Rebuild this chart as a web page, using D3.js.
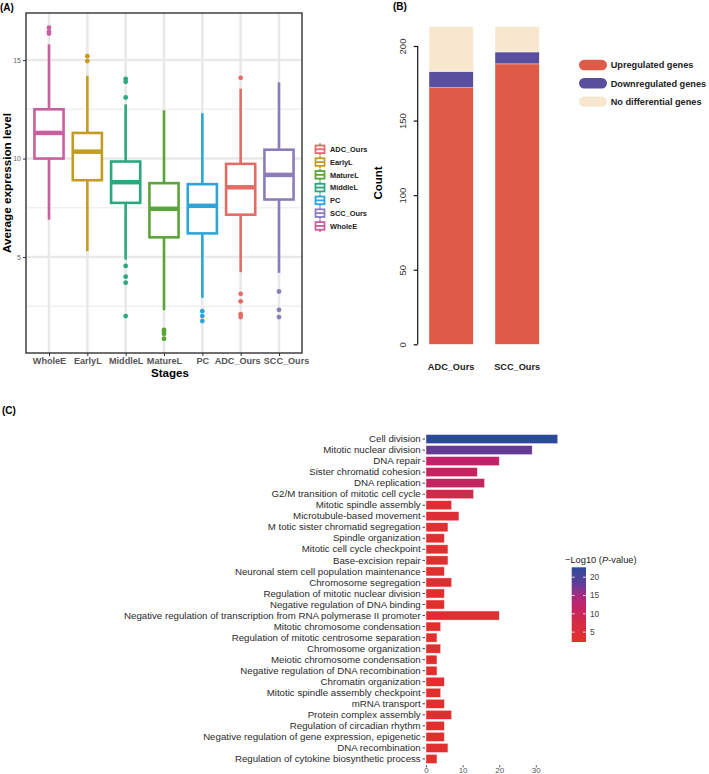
<!DOCTYPE html>
<html><head><meta charset="utf-8">
<script src="https://cdn.jsdelivr.net/npm/d3@7"></script>
<style>body{margin:0;background:#fff}svg{display:block;font-family:"Liberation Sans",Arial,sans-serif}</style>
</head><body>
<svg id="c" width="709" height="774"></svg>
<script>
// ---------- Panel A data ----------
const stages = ["WholeE","EarlyL","MiddleL","MatureL","PC","ADC_Ours","SCC_Ours"];
const q1 = [10.0, 8.9, 7.75, 6.0, 6.2, 7.15, 7.92];
const medians = [11.3, 10.35, 8.8, 7.45, 7.6, 8.54, 9.17];
const q3 = [12.5, 11.3, 9.85, 8.75, 8.7, 9.73, 10.45];
const whiskerLow = [6.9, 5.3, 4.87, 2.3, 2.93, 4.23, 4.2];
const whiskerHigh = [15.8, 14.2, 12.75, 12.45, 12.3, 13.55, 13.87];
const outliers = [[16.65,16.45,16.35],[15.2,14.95],[14.05,13.9,13.1,4.55,4.0,3.7,2.0],[1.3,1.2,1.1,0.85],[2.25,2.0,1.75],[14.1,3.13,2.75,2.1,1.95],[3.25,2.32,1.95]];
const legendOrderA = ["ADC_Ours","EarlyL","MatureL","MiddleL","PC","SCC_Ours","WholeE"];
const stageColors = ["#c8609f","#c39c22","#2aa97f","#5aa63a","#2ea4d8","#e26d66","#8b7cba"];
const yTicksA = [5,10,15];

// ---------- Panel B data ----------
const groupsB = ["ADC_Ours","SCC_Ours"];
const upregulated = [172, 188];
const downregulated = [11, 8];
const noDifferential = [30, 17];
const seriesB = ["Upregulated genes","Downregulated genes","No differential genes"];
const colorsB = ["#df5b47","#5a4f9f","#f8e7cf"];
const yTicksB = [0,50,100,150,200];

// ---------- Panel C data ----------
const terms = ["Cell division","Mitotic nuclear division","DNA repair","Sister chromatid cohesion","DNA replication","G2/M transition of mitotic cell cycle","Mitotic spindle assembly","Microtubule-based movement","M totic sister chromatid segregation","Spindle organization","Mitotic cell cycle checkpoint","Base-excision repair","Neuronal stem cell population maintenance","Chromosome segregation","Regulation of mitotic nuclear division","Negative regulation of DNA binding","Negative regulation of transcription from RNA polymerase II promoter","Mitotic chromosome condensation","Regulation of mitotic centrosome separation","Chromosome organization","Meiotic chromosome condensation","Negative regulation of DNA recombination","Chromatin organization","Mitotic spindle assembly checkpoint","mRNA transport","Protein complex assembly","Regulation of circadian rhythm","Negative regulation of gene expression, epigenetic","DNA recombination","Regulation of cytokine biosynthetic process"];
const termCounts = [36,29,20,14,16,13,7,9,6,5,6,6,5,7,5,5,20,4,3,4,3,3,5,4,5,7,5,5,6,3];
const negLogP = [22.7,17.8,12.0,11.2,11.4,8.6,4.0,4.5,3.6,3.4,3.6,3.5,3.2,3.8,3.2,3.1,4.2,3.0,2.8,3.0,2.8,2.8,3.1,2.9,3.1,3.6,3.0,3.0,3.2,2.7];
const xTicksC = [0,10,20,30];
const legendTicksC = [5,10,15,20];
const colorStopValues = [2.3, 8, 12, 15, 18, 22.7];
const colorStopColors = ["#e3302a","#d32a47","#c22368","#a8287f","#5d3c97","#2a4a9c"];

const svg = d3.select("#c");
const font = "Liberation Sans, Arial, sans-serif";

// ================= Panel A =================
const A = {l:26, r:302, t:13, b:353};
const xA = d3.scalePoint().domain(stages).range([A.l, A.r]).padding(0.6);
const yA = d3.scaleLinear().domain([0.127, 17.39]).range([A.b, A.t]);
const labelNudgeA = {"ADC_Ours":-3.5, "SCC_Ours":7};
const gA = svg.append("g");
[2.5,7.5,12.5].forEach(v=>gA.append("line").attr("x1",A.l).attr("x2",A.r).attr("y1",yA(v)).attr("y2",yA(v)).attr("stroke","#f0f0f0").attr("stroke-width",1.6));
yTicksA.forEach(v=>gA.append("line").attr("x1",A.l).attr("x2",A.r).attr("y1",yA(v)).attr("y2",yA(v)).attr("stroke","#e9e9e9").attr("stroke-width",2.6));
stages.forEach(s=>gA.append("line").attr("x1",xA(s)).attr("x2",xA(s)).attr("y1",A.t).attr("y2",A.b).attr("stroke","#e9e9e9").attr("stroke-width",2.6));
const bw = xA.step()*0.76;
stages.forEach((s,i)=>{
  const c = stageColors[i], x = xA(s);
  const g = gA.append("g");
  g.append("line").attr("x1",x).attr("x2",x).attr("y1",yA(whiskerHigh[i])).attr("y2",yA(q3[i])).attr("stroke",c).attr("stroke-width",2.6);
  g.append("line").attr("x1",x).attr("x2",x).attr("y1",yA(q1[i])).attr("y2",yA(whiskerLow[i])).attr("stroke",c).attr("stroke-width",2.6);
  g.append("rect").attr("x",x-bw/2).attr("width",bw).attr("y",yA(q3[i])).attr("height",yA(q1[i])-yA(q3[i])).attr("fill","#fff").attr("stroke",c).attr("stroke-width",2.6);
  g.append("line").attr("x1",x-bw/2).attr("x2",x+bw/2).attr("y1",yA(medians[i])).attr("y2",yA(medians[i])).attr("stroke",c).attr("stroke-width",4.5);
  outliers[i].forEach(o=>g.append("circle").attr("cx",x).attr("cy",yA(o)).attr("r",2.4).attr("fill",c));
});
gA.append("rect").attr("x",A.l).attr("y",A.t).attr("width",A.r-A.l).attr("height",A.b-A.t).attr("fill","none").attr("stroke","#333").attr("stroke-width",1.4);
const axYA = gA.append("g").attr("transform",`translate(${A.l},0)`).call(d3.axisLeft(yA).tickValues(yTicksA).tickSize(3).tickPadding(2));
axYA.select(".domain").remove();
axYA.selectAll("line").attr("stroke","#333");
axYA.selectAll("text").attr("font-size",7).attr("fill","#666").attr("font-family",font);
const axXA = gA.append("g").attr("transform",`translate(0,${A.b})`).call(d3.axisBottom(xA).tickSize(3).tickPadding(1.5));
axXA.select(".domain").remove();
axXA.selectAll("line").attr("stroke","#333");
axXA.selectAll("text").attr("font-size",9.1).attr("font-weight","bold").attr("fill","#555").attr("font-family",font)
  .attr("dx",d=>labelNudgeA[d]||0);
gA.append("text").attr("x",170).attr("y",377).attr("text-anchor","middle").attr("font-size",11.6).attr("font-weight","bold").attr("font-family",font).text("Stages");
gA.append("text").attr("transform",`translate(10.5,${(A.t+A.b)/2}) rotate(-90)`).attr("text-anchor","middle").attr("font-size",11.7).attr("font-weight","bold").attr("font-family",font).text("Average expression level");
gA.append("text").attr("x",0).attr("y",11).attr("font-size",10).attr("font-weight","bold").attr("font-family",font).text("(A)");
legendOrderA.forEach((s,i)=>{
  const c = stageColors[stages.indexOf(s)];
  const y = 149.3 + i*12.77;
  const g = gA.append("g").attr("transform",`translate(315,${y})`);
  g.append("line").attr("x1",5).attr("x2",5).attr("y1",-6).attr("y2",6).attr("stroke",c).attr("stroke-width",1.6);
  g.append("rect").attr("x",0.5).attr("y",-3.8).attr("width",9).attr("height",7.6).attr("fill","#fff").attr("stroke",c).attr("stroke-width",1.8);
  g.append("line").attr("x1",0.5).attr("x2",9.5).attr("y1",0).attr("y2",0).attr("stroke",c).attr("stroke-width",1.8);
  g.append("text").attr("x",15).attr("y",2.7).attr("font-size",7.4).attr("font-weight","bold").attr("fill","#222").attr("font-family",font).text(s);
});

// ================= Panel B =================
const gB = svg.append("g");
const xB = d3.scaleBand().domain(groupsB).range([407.2, 561]).paddingInner(0.33).paddingOuter(0.33);
const yB = d3.scaleLinear().domain([0,200]).range([344.3, 46]);
const stackRows = groupsB.map((g,i)=>({group:g, "Upregulated genes":upregulated[i], "Downregulated genes":downregulated[i], "No differential genes":noDifferential[i]}));
const stacked = d3.stack().keys(seriesB)(stackRows);
stacked.forEach((layer,k)=>{
  gB.selectAll(null).data(layer).enter().append("rect")
    .attr("x",d=>xB(d.data.group)).attr("width",xB.bandwidth())
    .attr("y",d=>yB(d[1])).attr("height",d=>yB(d[0])-yB(d[1]))
    .attr("fill",colorsB[k]).attr("stroke","#fff").attr("stroke-width",0.4);
});
const axYB = gB.append("g").attr("transform","translate(417.7,0)").call(d3.axisLeft(yB).tickValues(yTicksB).tickSize(4).tickPadding(0));
axYB.select(".domain").attr("stroke","#111").attr("stroke-width",1.2).attr("d","M0,"+yB(0)+"V"+yB(200));
axYB.selectAll("line").attr("stroke","#111").attr("stroke-width",1.2);
axYB.selectAll(".tick text").attr("transform","translate(-12,0) rotate(-90)").attr("text-anchor","middle").attr("x",0).attr("dy",0).attr("y",0).attr("font-size",9.5).attr("fill","#333").attr("font-family",font);
gB.selectAll(null).data(groupsB).enter().append("text").attr("x",d=>xB(d)+xB.bandwidth()/2).attr("y",370.3).attr("text-anchor","middle").attr("font-size",9.2).attr("font-weight","bold").attr("fill","#222").attr("font-family",font).text(d=>d);
gB.append("text").attr("transform","translate(382,183) rotate(-90)").attr("text-anchor","middle").attr("font-size",11.5).attr("font-weight","bold").attr("font-family",font).text("Count");
gB.append("text").attr("x",393).attr("y",10).attr("font-size",10).attr("font-weight","bold").attr("font-family",font).text("(B)");
seriesB.forEach((s,i)=>{
  const y = 65 + i*18.3;
  gB.append("rect").attr("x",579).attr("y",y-5.2).attr("width",28).attr("height",10.4).attr("rx",5.2).attr("fill",colorsB[i]);
  gB.append("text").attr("x",610.7).attr("y",y+3.2).attr("font-size",9.2).attr("font-weight","bold").attr("fill","#222").attr("font-family",font).text(s);
});

// ================= Panel C =================
const gC = svg.append("g");
const yC = d3.scaleBand().domain(terms).range([433, 765]).paddingInner(0.18).paddingOuter(0.14);
const xC = d3.scaleLinear().domain([0,38]).range([426, 426+38*3.66]);
const pDomain = [colorStopValues[0], colorStopValues[colorStopValues.length-1]];
const colC = d3.scaleLinear().domain(colorStopValues).range(colorStopColors).interpolate(d3.interpolateLab);
gC.selectAll(null).data(terms).enter().append("rect")
  .attr("x",xC(0)).attr("y",d=>yC(d)).attr("height",yC.bandwidth())
  .attr("width",(d,i)=>xC(termCounts[i])-xC(0))
  .attr("fill",(d,i)=>colC(negLogP[i])).attr("stroke","#fbe3e3").attr("stroke-width",0.5);
const axYC = gC.append("g").attr("transform","translate(425,0)").call(d3.axisLeft(yC).tickSize(2.5).tickPadding(1.8));
axYC.select(".domain").remove();
axYC.selectAll("line").attr("stroke","#444");
axYC.selectAll("text").attr("font-size",9.7).attr("fill","#2a2a2a").attr("font-family",font);
const axXC = gC.append("g").attr("transform","translate(0,765.3)").call(d3.axisBottom(xC).tickValues(xTicksC).tickSize(2).tickPadding(0.5));
axXC.select(".domain").remove();
axXC.selectAll("line").attr("stroke","#444");
axXC.selectAll("text").attr("font-size",8).attr("fill","#555").attr("font-family",font);
gC.append("text").attr("x",2).attr("y",414).attr("font-size",10).attr("font-weight","bold").attr("font-family",font).text("(C)");
const cb = {x:571.7, w:14.3, t:567.3, b:642};
const yCB = d3.scaleLinear().domain(pDomain).range([cb.b, cb.t]);
const defs = svg.append("defs");
const lg = defs.append("linearGradient").attr("id","cbg").attr("x1",0).attr("x2",0).attr("y1",1).attr("y2",0);
d3.range(0,1.0001,0.05).forEach(t=>lg.append("stop").attr("offset",t).attr("stop-color",colC(pDomain[0]+t*(pDomain[1]-pDomain[0]))));
gC.append("rect").attr("x",cb.x).attr("y",cb.t).attr("width",cb.w).attr("height",cb.b-cb.t).attr("fill","url(#cbg)");
legendTicksC.forEach(v=>{
  gC.append("line").attr("x1",cb.x).attr("x2",cb.x+3).attr("y1",yCB(v)).attr("y2",yCB(v)).attr("stroke","#fff").attr("stroke-width",0.8);
  gC.append("line").attr("x1",cb.x+cb.w-3).attr("x2",cb.x+cb.w).attr("y1",yCB(v)).attr("y2",yCB(v)).attr("stroke","#fff").attr("stroke-width",0.8);
  gC.append("text").attr("x",cb.x+cb.w+4).attr("y",yCB(v)+3).attr("font-size",8.3).attr("fill","#444").attr("font-family",font).text(v);
});
const tt = gC.append("text").attr("x",565).attr("y",563).attr("font-size",9.3).attr("fill","#222").attr("font-family",font);
tt.append("tspan").text("\u2212Log10 (");
tt.append("tspan").attr("font-style","italic").text("P");
tt.append("tspan").text("-value)");
</script>
</body></html>
